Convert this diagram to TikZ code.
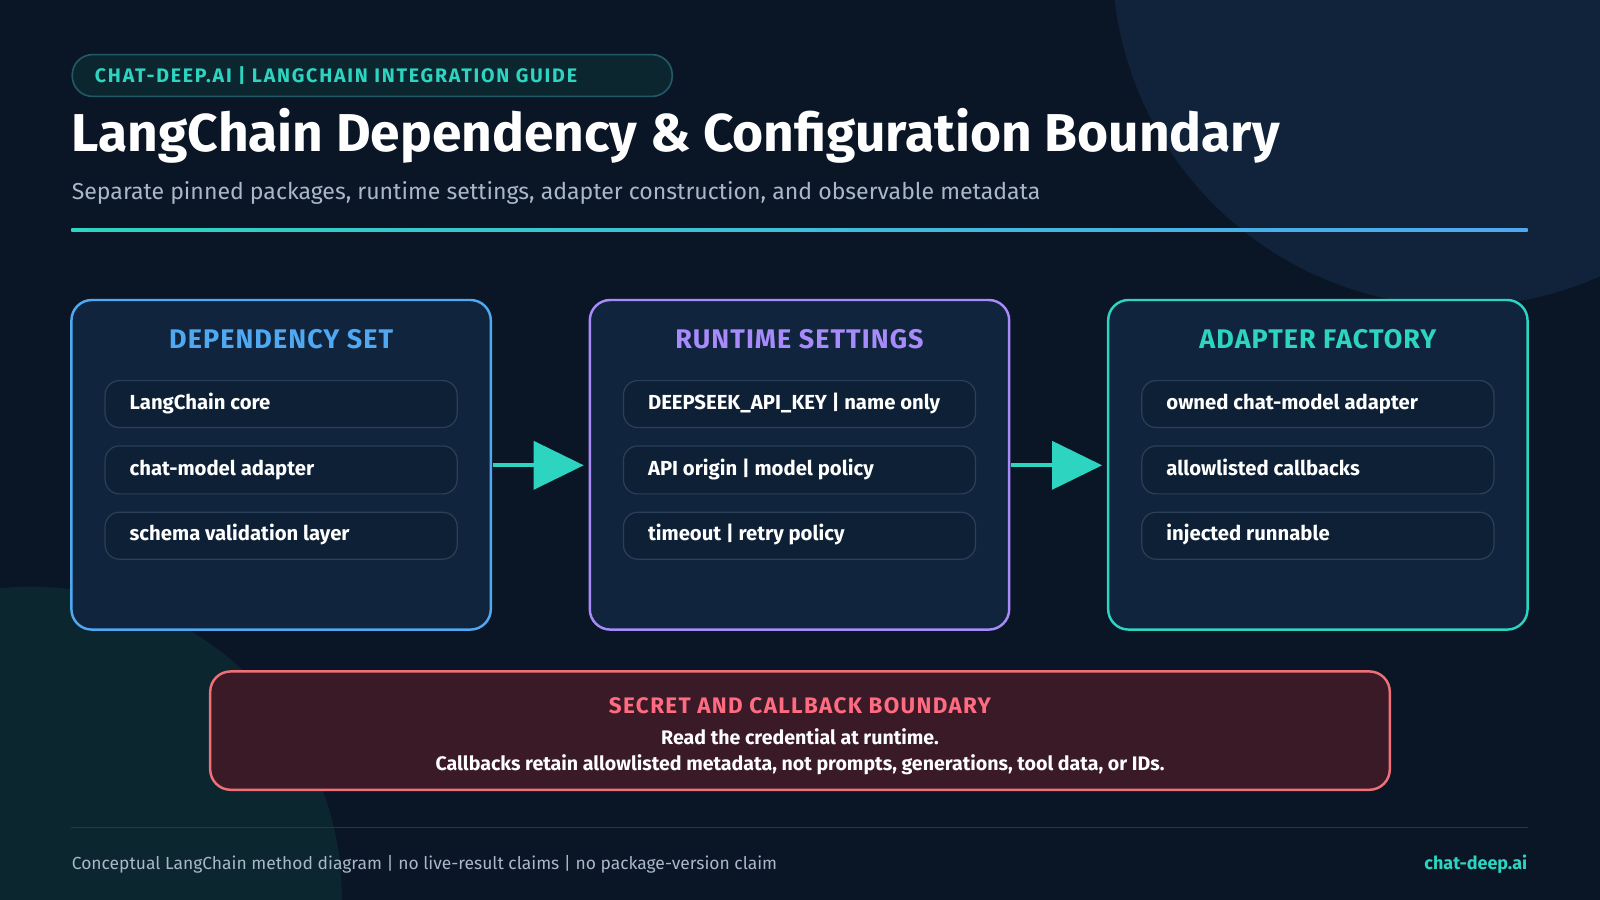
\documentclass[tikz,border=0pt]{standalone}
\usepackage{fontspec}
\setmainfont{Fira Sans}
\usetikzlibrary{shadings}
\definecolor{bg}{HTML}{0A1626}
\definecolor{circA}{HTML}{10233A}
\definecolor{circB}{HTML}{0C2630}
\definecolor{teal}{HTML}{2DD4BF}
\definecolor{blu}{HTML}{4FA8F0}
\definecolor{purp}{HTML}{A78BFA}
\definecolor{boxfill}{HTML}{10243D}
\definecolor{itemfill}{HTML}{0D2036}
\definecolor{itemline}{HTML}{2A4058}
\definecolor{subg}{HTML}{A9B8C8}
\definecolor{redfill}{HTML}{3A1A26}
\definecolor{redline}{HTML}{F0707A}
\definecolor{pinkt}{HTML}{FF6B81}
\definecolor{footl}{HTML}{1F3A50}
\begin{document}
\begin{tikzpicture}[x=0.5pt,y=-0.5pt,
 panel/.style={draw=#1,line width=1.2pt,fill=boxfill,rounded corners=10pt},
 item/.style={draw=itemline,line width=0.6pt,fill=itemfill,rounded corners=7pt},
 itemtxt/.style={anchor=west,text=white,font=\bfseries\fontsize{9.95}{11}\selectfont},
 head/.style={font=\bfseries\fontsize{13.2}{14}\selectfont\addfontfeatures{LetterSpace=4},text=#1},
 arr/.style={teal,line width=2pt}]
\fill[bg] (0,0) rectangle (1568,882);
\useasboundingbox (0,0) rectangle (1568,882);
\begin{scope}
\clip (0,0) rectangle (1568,882);
\fill[circA] (1430,-40) circle[radius=340];
\fill[circB] (30,880) circle[radius=305];
\end{scope}
% pill
\node[draw=footl!80!teal,fill=circB,rounded corners=10pt,line width=0.8pt,minimum width=294pt,minimum height=20.5pt,anchor=west] (pill) at (70,74) {};
\node[anchor=west,text=teal,font=\bfseries\fontsize{9.6}{10}\selectfont\addfontfeatures{LetterSpace=9}] (pillt) at (86,74) {CHAT-DEEP.AI | LANGCHAIN INTEGRATION GUIDE};
\node[anchor=west,text=white,font=\bfseries\fontsize{26.1}{28}\selectfont,inner sep=0] (title) at (70,133) {LangChain Dependency \& Configuration Boundary};
\node[anchor=west,text=subg,font=\fontsize{11.3}{13}\selectfont,inner sep=0] (sub) at (70,189) {Separate pinned packages, runtime settings, adapter construction, and observable metadata};
\shade[left color=teal,right color=blu] (70,224) rectangle (1497,226.5);
% panels
\foreach \x/\cl/\h/\ta/\tb/\tc/\n in {70/blu/DEPENDENCY SET/LangChain core/chat-model adapter/schema validation layer/p1,
 578/purp/RUNTIME SETTINGS/DEEPSEEK\_API\_KEY | name only/API origin | model policy/timeout | retry policy/p2,
 1086/teal/ADAPTER FACTORY/owned chat-model adapter/allowlisted callbacks/injected runnable/p3}{
 \draw[panel=\cl] (\x,294) rectangle ++(411,323);
 \node[head=\cl] (\n h) at (\x+205.5,332) {\h};
 \draw[item] (\x+33,373) rectangle ++(345,46);
 \draw[item] (\x+33,437) rectangle ++(345,47);
 \draw[item] (\x+33,502) rectangle ++(345,46);
 \node[itemtxt,text depth=0.25em,text height=0.75em] (\n a) at (\x+50,396) {\ta};
 \node[itemtxt,text depth=0.25em,text height=0.75em] (\n b) at (\x+50,460.5) {\tb};
 \node[itemtxt,text depth=0.25em,text height=0.75em] (\n c) at (\x+50,525) {\tc};
}
\coordinate (a1s) at (483,456); \coordinate (a1e) at (526,456);
\coordinate (a2s) at (991,456); \coordinate (a2e) at (1034,456);
\draw[arr] (a1s) -- (a1e);
\fill[teal] (523,432) -- (572,456) -- (523,480) -- cycle;
\draw[arr] (a2s) -- (a2e);
\fill[teal] (1031,432) -- (1080,456) -- (1031,480) -- cycle;
% secret box
\draw[draw=redline,fill=redfill,line width=1.2pt,rounded corners=10pt] (206,658) rectangle (1362,774);
\node[text=pinkt,font=\bfseries\fontsize{11}{12}\selectfont\addfontfeatures{LetterSpace=6}] (sh) at (784,692) {SECRET AND CALLBACK BOUNDARY};
\node[text=white,font=\bfseries\fontsize{9.6}{11}\selectfont] (s1) at (784,722) {Read the credential at runtime.};
\node[text=white,font=\bfseries\fontsize{9.6}{11}\selectfont] (s2) at (784,749) {Callbacks retain allowlisted metadata, not prompts, generations, tool data, or IDs.};
\draw[footl,line width=0.8pt] (70,811) -- (1497,811);
\node[anchor=west,inner sep=0,text=subg,font=\fontsize{8.55}{10}\selectfont] (f1) at (70,847) {Conceptual LangChain method diagram | no live-result claims | no package-version claim};
\node[anchor=east,inner sep=0,text=teal,font=\bfseries\fontsize{8.8}{10}\selectfont] (f2) at (1497,847) {chat-deep.ai};
\end{tikzpicture}
\end{document}
